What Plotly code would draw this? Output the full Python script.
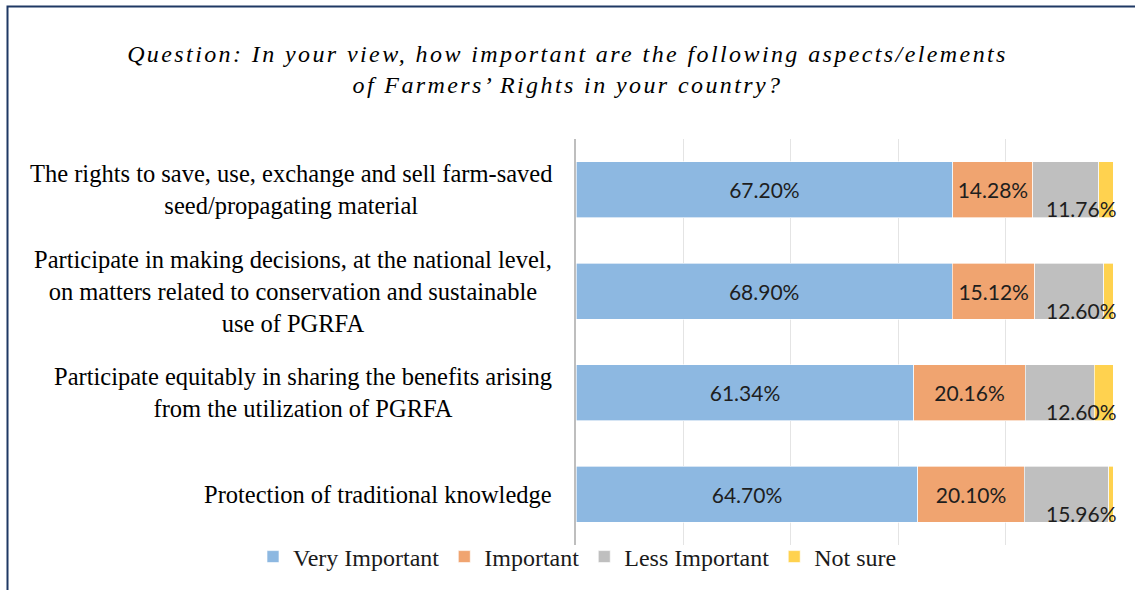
import plotly.graph_objects as go

# ---------------- data ----------------
categories = [
    "The rights to save, use, exchange and sell farm-saved<br>seed/propagating material",
    "Participate in making decisions, at the national level,<br>on matters related to conservation and sustainable<br>use of PGRFA",
    "Participate equitably in sharing the benefits arising<br>from the utilization of PGRFA",
    "Protection of traditional knowledge",
]
very_important = [67.20, 68.90, 61.34, 64.70]
important = [14.28, 15.12, 20.16, 20.10]
less_important = [11.76, 12.60, 12.60, 15.96]
not_sure = [2.52, 1.68, 3.36, 0.84]
series_names = ["Very Important", "Important", "Less Important", "Not sure"]

title_text = ("Question: In your view, how important are the following aspects/elements"
              "<br>of Farmers’ Rights in your country?")

# ---------------- layout constants ----------------
W, H = 1135, 590
L, R, T, B = 576, 22, 139, 45
PW, PH = W - L - R, H - T - B

def px_x(px):
    return (px - L) / PW

def px_y(py):
    return 1 - (py - T) / PH

colors = ["#8DB8E1", "#F0A470", "#BFBFBF", "#FFD24F"]
serif = "Liberation Serif, Times New Roman, serif"
sans = "Lato, Open Sans, sans-serif"
label_color = "#1E1E1E"

ykeys = [f"c{i}" for i in range(len(categories))]

fig = go.Figure()
series = [very_important, important, less_important, not_sure]
for idx, (name, vals, col) in enumerate(zip(series_names, series, colors)):
    show_text = idx < 2
    fig.add_trace(go.Bar(
        name=name,
        y=ykeys,
        x=vals,
        orientation="h",
        marker=dict(color=col, line=dict(color="rgba(255,255,255,0.8)", width=0.8)),
        text=[f"{v:.2f}%" for v in vals] if show_text else None,
        textposition="inside" if show_text else "none",
        insidetextanchor="middle",
        textangle=0,
        textfont=dict(family=sans, size=21, color=label_color),
        hovertemplate=name + ": %{customdata:.2f}%<extra></extra>",
        customdata=vals,
    ))

annotations = []
# category labels (centered lines, block right-aligned next to the axis)
for key, cat in zip(ykeys, categories):
    annotations.append(dict(
        x=px_x(554), xref="paper", xanchor="right",
        y=key, yref="y", yanchor="middle",
        text=cat, showarrow=False, align="center",
        font=dict(family=serif, size=24.5, color="#000000"),
    ))

# "Less Important" labels, drawn at the right end of each bar, slightly below centre
for key, a, b, c, d in zip(ykeys, very_important, important, less_important, not_sure):
    total = a + b + c + d
    end = (a + b + c + d) / total * 100
    annotations.append(dict(
        x=end, xref="x", xanchor="right", xshift=6,
        y=key, yref="y", yanchor="middle", yshift=-19,
        text=f"{c:.2f}%", showarrow=False,
        font=dict(family=sans, size=21, color=label_color),
    ))

fig.update_layout(
    width=W, height=H,
    margin=dict(l=L, r=R, t=T, b=B, pad=0, autoexpand=False),
    paper_bgcolor="white", plot_bgcolor="white",
    barmode="stack", barnorm="percent", bargap=0.448,
    uniformtext=dict(minsize=21, mode="show"),
    title=dict(
        text=title_text, x=0.5, xref="container", xanchor="center",
        y=1 - 62 / H, yref="container", yanchor="top",
        font=dict(family=serif, size=24, color="#000000", style="italic"),
    ),
    xaxis=dict(
        range=[0, 100], dtick=20, showticklabels=False, ticks="",
        showgrid=True, gridcolor="#E4E4E4", gridwidth=1,
        zeroline=False, showline=False, fixedrange=True,
    ),
    yaxis=dict(
        autorange="reversed", showticklabels=False, ticks="",
        showline=True, linecolor="#BEBEBE", linewidth=2,
        showgrid=False, zeroline=False, fixedrange=True,
    ),
    legend=dict(
        orientation="h", xref="paper", yref="paper",
        x=px_x(253), xanchor="left", y=px_y(557), yanchor="middle",
        font=dict(family=serif, size=24, color="#1A1A1A"),
        traceorder="normal", itemwidth=30, bgcolor="rgba(0,0,0,0)",
        borderwidth=0,
    ),
    annotations=annotations,
    shapes=[dict(
        type="rect", xref="paper", yref="paper",
        x0=px_x(7.5), x1=px_x(W + 20), y0=px_y(H + 20), y1=px_y(6.5),
        line=dict(color="#1F3864", width=2), fillcolor="rgba(0,0,0,0)", layer="above",
    )],
    showlegend=True,
)

post = """
document.body.style.margin = '0';
document.body.style.padding = '0';
var gd = document.getElementById('{plot_id}');
function spaceTitle(){
  gd.querySelectorAll('.gtitle').forEach(function(e){ e.style.letterSpacing='2.4px'; });
}
spaceTitle();
if (gd && gd.on) { gd.on('plotly_afterplot', spaceTitle); }
"""

fig.write_html("out.html", post_script=post, config={"displayModeBar": False})
